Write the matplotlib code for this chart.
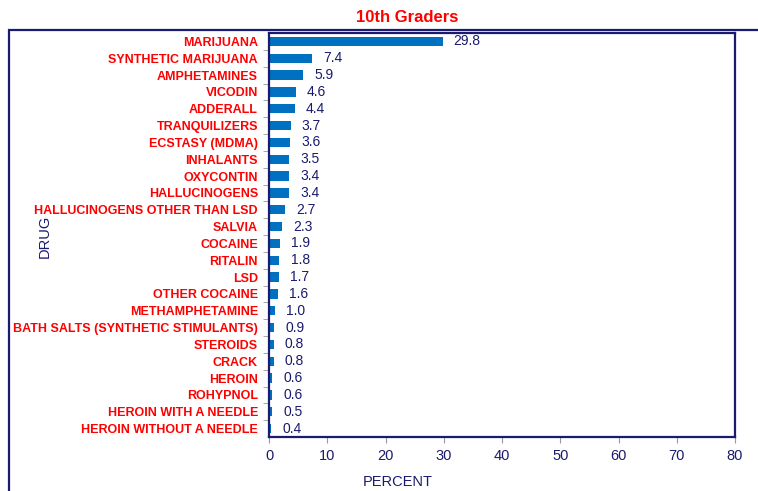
import matplotlib
matplotlib.use("Agg")
import matplotlib.pyplot as plt
from matplotlib.patches import Rectangle

# data
drugs = ["MARIJUANA", "SYNTHETIC MARIJUANA", "AMPHETAMINES", "VICODIN", "ADDERALL",
         "TRANQUILIZERS", "ECSTASY (MDMA)", "INHALANTS", "OXYCONTIN", "HALLUCINOGENS",
         "HALLUCINOGENS OTHER THAN LSD", "SALVIA", "COCAINE", "RITALIN", "LSD",
         "OTHER COCAINE", "METHAMPHETAMINE", "BATH SALTS (SYNTHETIC STIMULANTS)",
         "STEROIDS", "CRACK", "HEROIN", "ROHYPNOL", "HEROIN WITH A NEEDLE",
         "HEROIN WITHOUT A NEEDLE"]
percent = [29.8, 7.4, 5.9, 4.6, 4.4, 3.7, 3.6, 3.5, 3.4, 3.4, 2.7, 2.3, 1.9, 1.8,
           1.7, 1.6, 1.0, 0.9, 0.8, 0.8, 0.6, 0.6, 0.5, 0.4]
x_ticks = [0, 10, 20, 30, 40, 50, 60, 70, 80]

navy = "#1a1a6e"
red = "#ff0000"
blue = "#0070c0"

plt.rcParams['font.family'] = ['Liberation Sans', 'DejaVu Sans']

fig = plt.figure(figsize=(7.58, 4.91), dpi=100)

# outer frame
fig.patches.append(Rectangle((9 / 758, -0.1), 1.0, 461 / 491 + 0.1, transform=fig.transFigure,
                             fill=False, edgecolor=navy, linewidth=1.6, clip_on=False))

ax = fig.add_axes([269 / 758, 54 / 491, (735 - 269) / 758, (458 - 54) / 491])
pos = list(range(len(drugs)))
ax.barh(pos, percent, height=0.55, color=blue)
for p, v in zip(pos, percent):
    ax.annotate(f"{v:.1f}", (v, p), xytext=(8, 0), textcoords="offset points",
                va="center", ha="left", color=navy, fontsize=10)

ax.set_xlim(0, 80)
ax.set_ylim(len(drugs) - 0.5, -0.5)
ax.set_xticks(x_ticks)
ax.set_xticklabels([str(t) for t in x_ticks], color=navy, fontsize=10.5)
ax.set_yticks(pos)
ax.set_yticklabels(drugs, color=red, fontsize=9, fontweight="bold")
ax.tick_params(axis="y", length=0, pad=8)
ax.set_yticks([p + 0.5 for p in pos[:-1]], minor=True)
ax.tick_params(axis="y", which="minor", length=4, color="#999999", direction="out")
ax.tick_params(axis="x", length=4, color="#999999", pad=5)
for s in ax.spines.values():
    s.set_color(navy)
    s.set_linewidth(1.6)

ax.set_xlabel("PERCENT", color=navy, fontsize=10.5)
ax.xaxis.set_label_coords((398 - 269) / (735 - 269), -0.095)
fig.text(45 / 758, 1 - 236 / 491, "DRUG", rotation=90, color=navy, fontsize=10.5,
         ha="center", va="center")
fig.text(407 / 758, 1 - 17 / 491, "10th Graders", color=red, fontsize=12,
         fontweight="bold", ha="center", va="center")

fig.savefig("out.png", dpi=100)
plt.close()
